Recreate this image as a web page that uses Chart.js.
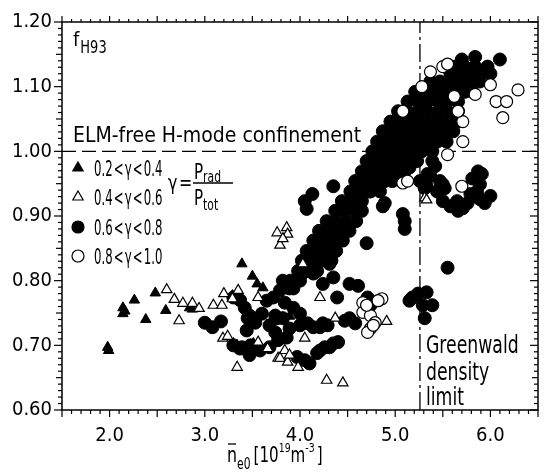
<!DOCTYPE html>
<html>
<head>
<meta charset="utf-8">
<script src="https://cdn.jsdelivr.net/npm/chart.js@4.4.0/dist/chart.umd.min.js"></script>
<style>
  html, body { margin: 0; padding: 0; background: #fff; }
</style>
</head>
<body>
<canvas id="chart" width="547" height="474"></canvas>
<script>
// tick labels
const xTicks = [2, 3, 4, 5, 6];
const yTicks = [0.6, 0.7, 0.8, 0.9, 1.0, 1.1, 1.2];

// 0.2 < gamma < 0.4
const triFilled = [
  [1.98,0.697],[1.99,0.692],[2.14,0.758],[2.16,0.753],[2.14,0.749],[2.26,0.770],[2.38,0.740],
  [2.48,0.781],[2.59,0.754],[2.84,0.758],[2.87,0.756],
  [3.29,0.777],[3.39,0.826],[3.50,0.807],[3.55,0.795],[3.61,0.789],[3.45,0.751],
  [3.30,0.703],[3.34,0.700],[3.51,0.703],[3.82,0.743],[3.89,0.745]
];

// 0.4 < gamma < 0.6
const triOpen = [
  [2.60,0.786],[2.68,0.771],[2.77,0.765],[2.87,0.765],[2.94,0.757],[2.73,0.738],
  [3.09,0.762],[3.18,0.762],[3.20,0.780],[3.35,0.785],[3.29,0.772],[3.19,0.711],[3.24,0.714],
  [3.34,0.666],[3.56,0.705],[3.66,0.695],[3.77,0.680],
  [3.76,0.874],[3.86,0.882],[3.87,0.872],[3.79,0.855],[3.82,0.865],
  [3.56,0.774],[4.03,0.826],[4.21,0.774],[4.37,0.742],[4.05,0.711],[3.84,0.692],[3.79,0.680],
  [3.87,0.674],[3.98,0.666],[3.89,0.685],[4.28,0.646],[4.45,0.642],[4.91,0.737],
  [5.31,0.928],[5.33,0.925]
];

// 0.6 < gamma < 0.8
const circFilled = [
  // low left group
  [3.00,0.735],[3.08,0.728],[3.17,0.737],
  [3.30,0.774],[3.37,0.770],[3.42,0.758],[3.47,0.746],[3.44,0.723],[3.53,0.735],[3.60,0.749],
  [3.68,0.731],[3.76,0.742],[3.65,0.769],[3.72,0.774],[3.79,0.785],[3.82,0.800],[3.93,0.788],
  [3.89,0.788],[3.45,0.742],
  [3.30,0.700],[3.37,0.695],[3.47,0.685],[3.58,0.692],[3.68,0.697],[3.77,0.708],[3.86,0.712],
  [3.97,0.682],[4.05,0.677],[4.10,0.672],[3.39,0.697],[3.48,0.700],
  [3.74,0.720],[3.89,0.726],[4.00,0.731],[4.08,0.734],[4.14,0.728],[4.21,0.728],[4.29,0.731],
  [3.82,0.742],[3.74,0.746],[3.84,0.766],[3.93,0.758],[4.00,0.749],[4.24,0.734],
  [4.18,0.688],[4.21,0.692],[4.26,0.697],[4.31,0.697],[4.35,0.703],[4.40,0.705],
  [4.47,0.738],[4.52,0.742],[4.58,0.734],
  [4.39,0.774],[4.52,0.795],[4.61,0.792],[4.24,0.795],[4.35,0.805],
  [4.03,0.812],[4.10,0.828],[4.14,0.811],[4.21,0.838],[4.31,0.826],
  [4.70,0.858],[4.71,0.774],[4.74,0.762],
  // near the density limit, low
  [5.15,0.769],[5.18,0.774],[5.24,0.780],[5.33,0.782],[5.29,0.762],[5.39,0.762],[5.31,0.742],
  [5.55,0.820],
  // stray mid points
  [5.08,0.903],[5.10,0.892],[5.10,0.880],
  [4.05,0.923],[4.13,0.934],[4.07,0.911],[4.35,0.946],
  [4.73,0.938],[4.63,0.918],[4.87,0.915],[4.89,0.920],
  // main band
  [5.70,1.142],[5.84,1.146],[6.10,1.142],
  [5.63,1.131],[5.73,1.131],[5.84,1.131],[5.97,1.131],
  [5.58,1.120],[5.68,1.120],[5.79,1.120],[5.89,1.120],[6.00,1.120],
  [5.37,1.108],[5.47,1.108],[5.58,1.108],[5.68,1.108],[5.79,1.108],[5.89,1.108],
  [5.21,1.092],[5.31,1.092],[5.42,1.092],[5.52,1.092],[5.63,1.092],[5.73,1.092],[5.81,1.092],
  [5.13,1.077],[5.24,1.077],[5.34,1.077],[5.45,1.077],[5.55,1.077],[5.66,1.077],
  [5.03,1.062],[5.13,1.062],[5.24,1.062],[5.34,1.062],[5.45,1.062],[5.55,1.062],[5.66,1.062],
  [4.95,1.046],[5.05,1.046],[5.16,1.046],[5.26,1.046],[5.37,1.046],[5.47,1.046],[5.58,1.046],[5.66,1.046],
  [4.87,1.031],[4.98,1.031],[5.08,1.031],[5.19,1.031],[5.29,1.031],[5.40,1.031],[5.50,1.031],[5.61,1.031],
  [4.81,1.015],[4.91,1.015],[5.02,1.015],[5.12,1.015],[5.23,1.015],[5.33,1.015],[5.44,1.015],[5.54,1.015],
  [4.76,1.000],[4.86,1.000],[4.97,1.000],[5.07,1.000],[5.18,1.000],[5.28,1.000],[5.39,1.000],
  [4.70,0.985],[4.81,0.985],[4.91,0.985],[5.02,0.985],[5.12,0.985],[5.23,0.985],[5.39,0.985],
  [4.65,0.969],[4.76,0.969],[4.86,0.969],[4.97,0.969],[5.05,0.969],[5.10,0.969],[5.15,0.975],
  [4.58,0.954],[4.68,0.954],[4.79,0.954],[4.89,0.954],[4.97,0.954],
  [4.53,0.938],[4.63,0.938],[4.74,0.938],[4.84,0.938],
  [4.44,0.923],[4.55,0.923],[4.65,0.923],
  [4.37,0.908],[4.47,0.908],[4.58,0.908],[4.65,0.908],
  [4.28,0.892],[4.38,0.892],[4.49,0.892],[4.59,0.892],
  [4.20,0.877],[4.31,0.877],[4.41,0.877],[4.52,0.877],
  [4.14,0.862],[4.24,0.862],[4.35,0.862],[4.45,0.862],
  [4.07,0.846],[4.17,0.846],[4.28,0.846],[4.38,0.846],
  [4.02,0.831],[4.12,0.831],[4.23,0.831],[4.33,0.831],
  [3.98,0.815],[4.08,0.815],[4.18,0.815],
  [3.90,0.800],[4.00,0.800],
  // group right of the density limit, below 1.0
  [5.42,0.977],[5.37,0.962],[5.34,0.965],[5.50,0.949],[5.47,0.954],[5.26,0.954],[5.31,0.943],
  [5.33,0.946],[5.44,0.938],[5.52,0.943],[5.50,0.923],[5.58,0.915],[5.65,0.923],[5.66,0.908],
  [5.71,0.912],[5.76,0.920],[5.79,0.934],[5.86,0.938],[5.89,0.949],[5.91,0.965],[5.81,0.958],
  [5.87,0.969],[5.89,0.926],[6.00,0.931],[5.94,0.920]
];

// 0.8 < gamma < 1.0
const circOpen = [
  [4.86,0.772],[4.66,0.766],[4.66,0.751],[4.74,0.746],[4.79,0.735],[4.74,0.726],[4.71,0.720],
  [4.77,0.731],[4.82,0.769],[4.70,0.762],
  [5.08,0.951],[5.13,0.954],[5.70,0.946],[5.55,0.995],
  [5.37,1.123],[5.50,1.131],[5.55,1.135],[6.00,1.103],[6.29,1.095],[6.06,1.077],[6.17,1.077],
  [6.13,1.052],[5.71,1.046],[5.71,1.015],[5.28,1.100],[5.08,1.062],[5.84,1.088],[5.62,1.085],
  [5.66,1.062]
];

const elmLine = [[1.5, 1.0], [6.5, 1.0]];
const greenwaldLine = [[5.26, 0.6], [5.26, 1.2]];

const FONT = '"DejaVu Sans Condensed", "DejaVu Sans", sans-serif';
const toPts = arr => arr.map(([x, y]) => ({ x, y }));

function txt(ctx, s, x, y, size, sx) {
  sx = sx || 1;
  ctx.save();
  ctx.font = size + 'px ' + FONT;
  ctx.textBaseline = 'alphabetic';
  ctx.textAlign = 'left';
  ctx.translate(x, y);
  ctx.scale(sx, 1);
  ctx.fillText(s, 0, 0);
  const w = ctx.measureText(s).width * sx;
  ctx.restore();
  return w;
}

function marker(ctx, kind, x, y) {
  ctx.save();
  ctx.lineWidth = 1.2;
  ctx.strokeStyle = '#000';
  ctx.fillStyle = (kind === 'tri' || kind === 'circ') ? '#000' : '#fff';
  ctx.beginPath();
  if (kind === 'tri' || kind === 'triOpen') {
    const r = 6;
    ctx.moveTo(x, y - r);
    ctx.lineTo(x + r * 0.866, y + r * 0.5);
    ctx.lineTo(x - r * 0.866, y + r * 0.5);
    ctx.closePath();
  } else {
    ctx.arc(x, y, 6, 0, Math.PI * 2);
  }
  ctx.fill();
  ctx.stroke();
  ctx.restore();
}

const decorations = {
  id: 'decorations',
  afterDraw(chart) {
    const { ctx, chartArea: a, scales: { x, y } } = chart;
    ctx.save();
    ctx.strokeStyle = '#000';
    ctx.fillStyle = '#000';

    // frame
    ctx.lineWidth = 1.5;
    ctx.strokeRect(a.left, a.top, a.right - a.left, a.bottom - a.top);

    // tick marks
    ctx.lineWidth = 1.2;
    const seg = (x1, y1, x2, y2) => { ctx.beginPath(); ctx.moveTo(x1, y1); ctx.lineTo(x2, y2); ctx.stroke(); };
    for (let i = 15; i <= 65; i++) {
      const px = x.getPixelForValue(i / 10);
      const big = i % 5 === 0;
      seg(px, a.bottom, px, a.bottom + (big ? 7 : 4));
      seg(px, a.top, px, a.top - (big ? 6 : 3));
    }
    for (let i = 60; i <= 120; i++) {
      const py = y.getPixelForValue(i / 100);
      const len = i % 10 === 0 ? 8 : (i % 5 === 0 ? 6 : 4);
      seg(a.left - len, py, a.left, py);
      seg(a.right - len, py, a.right, py);
    }

    // quantity label inside the plot
    let w = txt(ctx, 'f', a.left + 11, a.top + 24, 20);
    txt(ctx, 'H93', a.left + 11 + w + 1, a.top + 31, 17, 0.85);

    txt(ctx, 'ELM-free H-mode confinement', a.left + 11, 142, 21);

    // legend
    const hs = '\u200a';
    const rows = [
      ['tri', '0.2' + hs + '<' + hs + '\u03b3' + hs + '<' + hs + '0.4', 168],
      ['triOpen', '0.4' + hs + '<' + hs + '\u03b3' + hs + '<' + hs + '0.6', 197],
      ['circ', '0.6' + hs + '<' + hs + '\u03b3' + hs + '<' + hs + '0.8', 227],
      ['circOpen', '0.8' + hs + '<' + hs + '\u03b3' + hs + '<' + hs + '1.0', 256]
    ];
    rows.forEach(([k, s, cy]) => {
      marker(ctx, k, a.left + 16, cy);
      txt(ctx, s, a.left + 32, cy + 8, 21, 0.62);
    });

    // gamma = Prad / Ptot
    txt(ctx, '\u03b3\u200a=', 168, 190, 22, 0.8);
    ctx.lineWidth = 1.4;
    seg(193, 183, 233, 183);
    w = txt(ctx, 'P', 194, 179, 21, 0.8);
    txt(ctx, 'rad', 194 + w, 182, 15, 0.8);
    w = txt(ctx, 'P', 194, 205, 21, 0.8);
    txt(ctx, 'tot', 194 + w, 210, 15, 0.8);

    // density limit label
    const gx = x.getPixelForValue(greenwaldLine[0][0]) + 6;
    txt(ctx, 'Greenwald', gx, 353, 24, 0.8);
    txt(ctx, 'density', gx, 380, 24, 0.8);
    txt(ctx, 'limit', gx, 405, 24, 0.8);

    // x axis title: n-bar e0 [10^19 m^-3]
    let cx = 227;
    const base = 462;
    w = txt(ctx, 'n', cx, base, 22, 0.8);
    ctx.lineWidth = 1.3;
    seg(cx + 1, base - 18, cx + w - 1, base - 18);
    cx += w;
    cx += txt(ctx, 'e0', cx, base + 7, 15, 0.8) + 3;
    cx += txt(ctx, '[10', cx, base, 21, 0.8);
    cx += txt(ctx, '19', cx, base - 10, 13, 0.8);
    cx += txt(ctx, 'm', cx, base, 21, 0.8);
    cx += txt(ctx, '-3', cx, base - 10, 13, 0.8) + 2;
    txt(ctx, ']', cx, base, 21, 0.8);

    ctx.restore();
  }
};

new Chart(document.getElementById('chart'), {
  type: 'scatter',
  data: {
    datasets: [
      {
        data: toPts(triOpen), pointStyle: 'triangle', pointRadius: 6,
        backgroundColor: '#fff', borderColor: '#000', borderWidth: 1.2, order: 1
      },
      {
        data: toPts(triFilled), pointStyle: 'triangle', pointRadius: 6,
        backgroundColor: '#000', borderColor: '#000', borderWidth: 1, order: 2
      },
      {
        data: toPts(circOpen), pointStyle: 'circle', pointRadius: 6,
        backgroundColor: '#fff', borderColor: '#000', borderWidth: 1.2, order: 3
      },
      {
        data: toPts(circFilled), pointStyle: 'circle', pointRadius: 6.5,
        backgroundColor: '#000', borderColor: '#000', borderWidth: 1, order: 4
      },
      {
        data: toPts(elmLine), showLine: true, pointRadius: 0, borderColor: '#000',
        borderWidth: 1.3, borderDash: [14, 6], order: 5
      },
      {
        data: toPts(greenwaldLine), showLine: true, pointRadius: 0, borderColor: '#000',
        borderWidth: 1.3, borderDash: [18, 4, 3, 4], order: 5
      }
    ]
  },
  options: {
    responsive: false,
    devicePixelRatio: 1,
    animation: false,
    events: [],
    layout: { padding: { top: 20, right: 9, left: 0, bottom: 0 } },
    plugins: { legend: { display: false }, tooltip: { enabled: false } },
    scales: {
      x: {
        type: 'linear', min: 1.5, max: 6.5,
        afterBuildTicks: s => { s.ticks = xTicks.map(v => ({ value: v })); },
        afterFit: s => { s.height = 64; },
        grid: { display: false, drawTicks: false },
        border: { display: false },
        ticks: {
          color: '#000', padding: 14, maxRotation: 0, autoSkip: false,
          font: { family: FONT, size: 20 },
          callback: v => Number(v).toFixed(1)
        }
      },
      y: {
        type: 'linear', min: 0.6, max: 1.2,
        afterBuildTicks: s => { s.ticks = yTicks.map(v => ({ value: v })); },
        afterFit: s => { s.width = 62; },
        grid: { display: false, drawTicks: false },
        border: { display: false },
        ticks: {
          color: '#000', padding: 10, autoSkip: false,
          font: { family: FONT, size: 20 },
          callback: v => Number(v).toFixed(2)
        }
      }
    }
  },
  plugins: [decorations]
});
</script>
</body>
</html>
